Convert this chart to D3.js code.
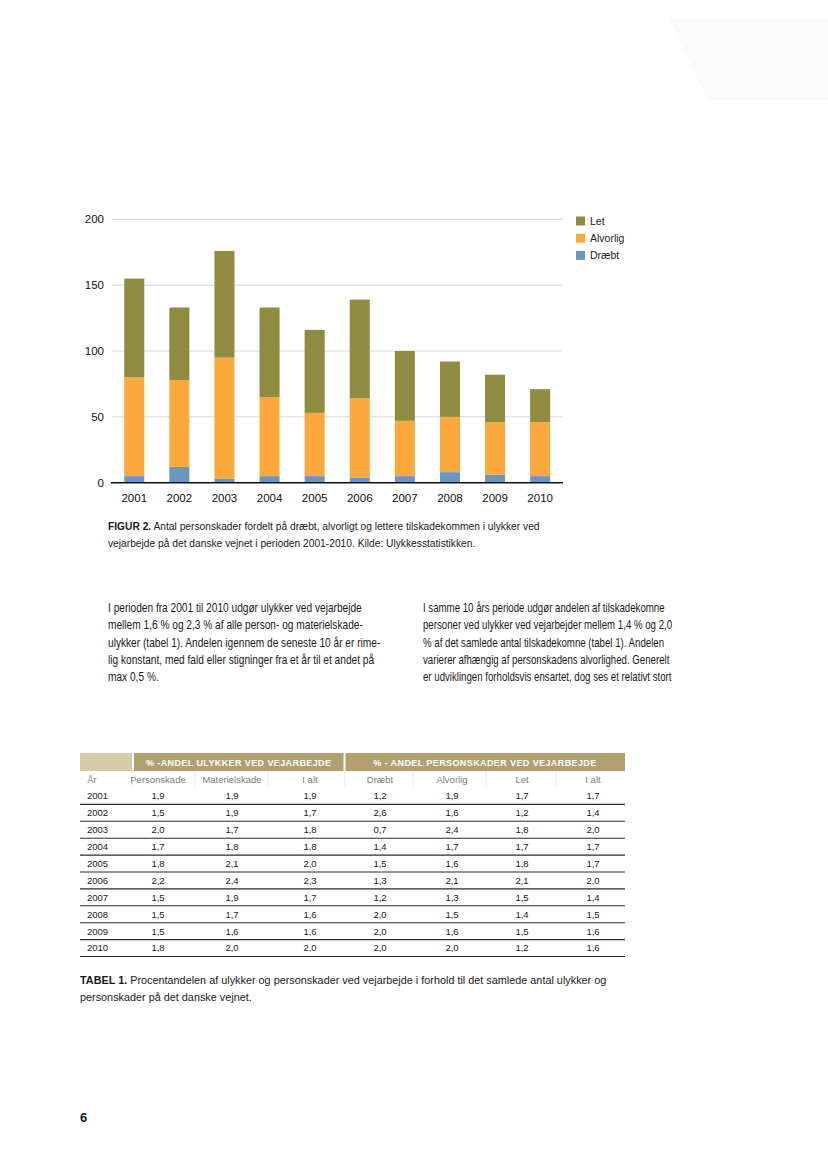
<!DOCTYPE html>
<html>
<head>
<meta charset="utf-8">
<script src="https://cdn.jsdelivr.net/npm/d3@7"></script>
<style>
  html, body { margin: 0; padding: 0; background: #fff; }
  svg { display: block; font-family: "Liberation Sans", Arial, sans-serif; }
</style>
</head>
<body>
<svg id="page" width="828" height="1169"></svg>
<script>
// Figur 2: personskader ved vejarbejde 2001-2010 (stacked)
const years = ["2001","2002","2003","2004","2005","2006","2007","2008","2009","2010"];
const draebt   = [5, 12, 3, 5, 5, 4, 5, 8, 6, 5];
const alvorlig = [75, 66, 92, 60, 48, 60, 42, 42, 40, 41];
const lette    = [75, 55, 81, 68, 63, 75, 53, 42, 36, 25];
const seriesNames = ["Dræbt", "Alvorlig", "Let"];
const yTicks = [0, 50, 100, 150, 200];

// Tabel 1
const tabYears   = ["2001","2002","2003","2004","2005","2006","2007","2008","2009","2010"];
const personskade   = ["1,9","1,5","2,0","1,7","1,8","2,2","1,5","1,5","1,5","1,8"];
const materielskade = ["1,9","1,9","1,7","1,8","2,1","2,4","1,9","1,7","1,6","2,0"];
const ialtUlykker   = ["1,9","1,7","1,8","1,8","2,0","2,3","1,7","1,6","1,6","2,0"];
const pctDraebt     = ["1,2","2,6","0,7","1,4","1,5","1,3","1,2","2,0","2,0","2,0"];
const pctAlvorlig   = ["1,9","1,6","2,4","1,7","1,6","2,1","1,3","1,5","1,6","2,0"];
const pctLet        = ["1,7","1,2","1,8","1,7","1,8","2,1","1,5","1,4","1,5","1,2"];
const ialtPersoner  = ["1,7","1,4","2,0","1,7","1,7","2,0","1,4","1,5","1,6","1,6"];
const subHeads = ["År","Personskade","Materielskade","I alt","Dræbt","Alvorlig","Let","I alt"];

const colors = { "Dræbt": "#6b96c2", "Alvorlig": "#fba83c", "Let": "#8f8b40" };

const svg = d3.select("#page");

// faint scan smudge top right
svg.append("path")
    .attr("d", "M668,18 L828,18 L828,100 L708,100 Z")
    .attr("fill", "#fafafa");

// ---- chart ----
const x = d3.scaleBand().domain(years).range([111.7, 562.7])
    .paddingInner(0.556).paddingOuter(0.278);
const y = d3.scaleLinear().domain([0, 200]).range([482.7, 219.3]);

const chart = svg.append("g");

chart.append("g").selectAll("line")
  .data(yTicks.filter(d => d > 0))
  .join("line")
    .attr("x1", 111.7).attr("x2", 562.7)
    .attr("y1", d => y(d)).attr("y2", d => y(d))
    .attr("stroke", "#dcd2dc").attr("stroke-width", 1);

const rows = years.map((yr, i) => ({ year: yr, "Dræbt": draebt[i], "Alvorlig": alvorlig[i], "Let": lette[i] }));
const stacked = d3.stack().keys(seriesNames)(rows);

chart.append("g").selectAll("g")
  .data(stacked)
  .join("g")
    .attr("fill", d => colors[d.key])
  .selectAll("rect")
  .data(d => d)
  .join("rect")
    .attr("x", d => x(d.data.year))
    .attr("width", x.bandwidth())
    .attr("y", d => y(d[1]))
    .attr("height", d => y(d[0]) - y(d[1]));

chart.append("line")
    .attr("x1", 111).attr("x2", 563)
    .attr("y1", y(0)).attr("y2", y(0))
    .attr("stroke", "#111").attr("stroke-width", 1.4);

chart.append("g").selectAll("text")
  .data(yTicks)
  .join("text")
    .attr("x", 104).attr("y", d => y(d)).attr("dy", "0.36em")
    .attr("text-anchor", "end")
    .style("font-size", "11.5px").attr("fill", "#111")
    .text(d => d);

chart.append("g").selectAll("text")
  .data(years)
  .join("text")
    .attr("x", d => x(d) + x.bandwidth() / 2).attr("y", 502)
    .attr("text-anchor", "middle")
    .style("font-size", "11.5px").attr("fill", "#111")
    .text(d => d);

// legend
const legend = chart.append("g").selectAll("g")
  .data(["Let", "Alvorlig", "Dræbt"])
  .join("g")
    .attr("transform", (d, i) => `translate(576,${216.5 + i * 17.2})`);
legend.append("rect").attr("width", 9).attr("height", 9).attr("fill", d => colors[d]);
legend.append("text").attr("x", 14).attr("y", 4.5).attr("dy", "0.36em")
    .style("font-size", "10.5px").attr("fill", "#222").text(d => d);

// ---- text blocks (scaled horizontally to the page width of the scan) ----
function block(x0, lines, y0, lh, size, firstWidth, boldLead) {
  const g = svg.append("g");
  lines.forEach((ln, i) => {
    const t = g.append("text")
        .attr("x", 0).attr("y", y0 + i * lh)
        .style("font-size", size + "px").attr("fill", "#1a1a1a");
    if (i === 0 && boldLead) {
      t.append("tspan").style("font-weight", "bold").text(boldLead);
      t.append("tspan").text(ln);
    } else {
      t.text(ln);
    }
  });
  const w = g.select("text").node().getComputedTextLength();
  g.attr("transform", `translate(${x0},0) scale(${firstWidth / w},1)`);
}

block(108, [
  " Antal personskader fordelt på dræbt, alvorligt og lettere tilskadekommen i ulykker ved",
  "vejarbejde på det danske vejnet i perioden 2001-2010. Kilde: Ulykkesstatistikken."
], 530, 17.5, 10, 432, "FIGUR 2.");

block(108, [
  "I perioden fra 2001 til 2010 udgør ulykker ved vejarbejde",
  "mellem 1,6 % og 2,3 % af alle person- og materielskade-",
  "ulykker (tabel 1). Andelen igennem de seneste 10 år er rime-",
  "lig konstant, med fald eller stigninger fra et år til et andet på",
  "max 0,5 %."
], 612, 17.3, 12.5, 254);

block(423, [
  "I samme 10 års periode udgør andelen af tilskadekomne",
  "personer ved ulykker ved vejarbejder mellem 1,4 % og 2,0",
  "% af det samlede antal tilskadekomne (tabel 1). Andelen",
  "varierer afhængig af personskadens alvorlighed. Generelt",
  "er udviklingen forholdsvis ensartet, dog ses et relativt stort"
], 612, 17.3, 12.5, 242);

// ---- table ----
const tbl = svg.append("g");
const colEdges = [80, 132, 195, 268, 345, 413, 486, 556, 625];
const colMid = [88, 158, 232, 310, 380, 452, 522, 593];
const rowY = d3.scaleBand().domain(tabYears).range([787.5, 956.5]);

tbl.append("rect").attr("x", 80).attr("y", 753).attr("width", 52).attr("height", 18).attr("fill", "#d6cba9");
tbl.append("rect").attr("x", 134).attr("y", 753).attr("width", 209.5).attr("height", 18).attr("fill", "#b2a070");
tbl.append("rect").attr("x", 345.5).attr("y", 753).attr("width", 279.5).attr("height", 18).attr("fill", "#b2a070");

tbl.append("text").attr("x", 238.7).attr("y", 765.5).attr("text-anchor", "middle")
    .style("font-size", "9px").style("font-weight", "bold").style("letter-spacing", "0.4px")
    .attr("fill", "#fff").text("% -ANDEL ULYKKER VED VEJARBEJDE");
tbl.append("text").attr("x", 485).attr("y", 765.5).attr("text-anchor", "middle")
    .style("font-size", "9px").style("font-weight", "bold").style("letter-spacing", "0.4px")
    .attr("fill", "#fff").text("% - ANDEL PERSONSKADER VED VEJARBEJDE");

tbl.append("g").selectAll("line")
  .data(colEdges.slice(1, -1))
  .join("line")
    .attr("x1", d => d).attr("x2", d => d).attr("y1", 771).attr("y2", 787)
    .attr("stroke", "#ececec");

tbl.append("g").selectAll("text")
  .data(subHeads)
  .join("text")
    .attr("x", (d, i) => i === 0 ? 92 : colMid[i]).attr("y", 782.5)
    .attr("text-anchor", "middle")
    .style("font-size", "9.5px").attr("fill", "#7a7a7a")
    .text(d => d);

const tabCols = [tabYears, personskade, materielskade, ialtUlykker, pctDraebt, pctAlvorlig, pctLet, ialtPersoner];
tabCols.forEach((col, c) => {
  tbl.append("g").selectAll("text")
    .data(col)
    .join("text")
      .attr("x", c === 0 ? 87 : colMid[c])
      .attr("y", (d, i) => rowY(tabYears[i]) + rowY.bandwidth() / 2)
      .attr("dy", "0.36em")
      .attr("text-anchor", c === 0 ? "start" : "middle")
      .style("font-size", "9.5px").attr("fill", "#1a1a1a")
      .text(d => d);
});

tbl.append("g").selectAll("line")
  .data(tabYears)
  .join("line")
    .attr("x1", 80).attr("x2", 625)
    .attr("y1", d => rowY(d) + rowY.bandwidth()).attr("y2", d => rowY(d) + rowY.bandwidth())
    .attr("stroke", "#2a2a2a").attr("stroke-width", 1.1);

block(80, [
  " Procentandelen af ulykker og personskader ved vejarbejde i forhold til det samlede antal ulykker og",
  "personskader på det danske vejnet."
], 984, 17, 10, 527, "TABEL 1.");

svg.append("text").attr("x", 80).attr("y", 1122)
    .style("font-size", "13px").style("font-weight", "bold").attr("fill", "#111").text("6");
</script>
</body>
</html>
